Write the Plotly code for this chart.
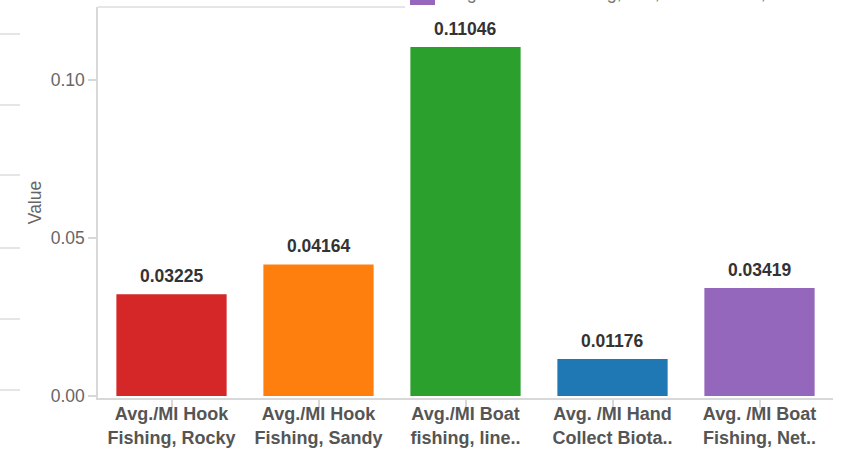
import plotly.graph_objects as go

categories = ["Avg./MI Hook<br>Fishing, Rocky", "Avg./MI Hook<br>Fishing, Sandy",
              "Avg./MI Boat<br>fishing, line..", "Avg. /MI Hand<br>Collect Biota..",
              "Avg. /MI Boat<br>Fishing, Net.."]
values = [0.03225, 0.04164, 0.11046, 0.01176, 0.03419]
labels = ["0.03225", "0.04164", "0.11046", "0.01176", "0.03419"]
colors = ["#d62728", "#ff7f0e", "#2ca02c", "#1f77b4", "#9467bd"]
ytick_vals = [0.0, 0.05, 0.10]
ytick_text = ["0.00", "0.05", "0.10"]
legend_text = "Avg. /MI Boat Fishing, Net, Commercial, Nearshore"

FONT = "Liberation Sans, Arial, sans-serif"
W, H = 865, 449
L, R, T, B = 98, 32, 7, 51
pw, ph = W - L - R, H - T - B

xs = list(range(len(categories)))
fig = go.Figure(go.Bar(
    x=xs, y=values, marker_color=colors,
    marker_line_width=0, width=0.75, hoverinfo="x+y",
))

def px_y(py):
    return (H - B - py) / ph

def px_x(px):
    return (px - L) / pw

shapes = []
for py in [34, 105, 175, 248, 319, 390]:
    shapes.append(dict(type="line", xref="paper", yref="paper",
                       x0=px_x(0), x1=px_x(20), y0=px_y(py), y1=px_y(py),
                       line=dict(color="#dcdcdc", width=1.5)))
shapes.append(dict(type="line", xref="paper", yref="paper",
                   x0=0, x1=px_x(405), y0=1, y1=1,
                   line=dict(color="#dcdcdc", width=1.5)))
shapes.append(dict(type="rect", xref="paper", yref="paper",
                   x0=px_x(410), x1=px_x(435), y0=px_y(5), y1=px_y(-12),
                   fillcolor="#9467bd", line_width=0))

annotations = [dict(text=lab, x=xv, y=v, xref="x", yref="y", xanchor="center",
                    yanchor="bottom", yshift=6, showarrow=False,
                    font=dict(family=FONT, size=17.5, color="#333", weight="bold"))
               for xv, v, lab in zip(xs, values, labels)]
annotations.append(dict(text=legend_text, xref="paper", yref="paper",
                        x=px_x(444), y=px_y(-7), xanchor="left", yanchor="middle",
                        showarrow=False,
                        font=dict(family=FONT, size=18, color="#777")))

fig.update_layout(
    width=W, height=H,
    margin=dict(l=L, r=R, t=T, b=B, pad=0, autoexpand=False),
    plot_bgcolor="white", paper_bgcolor="white",
    showlegend=False,
    font=dict(family=FONT, color="#666"),
    shapes=shapes,
    annotations=annotations,
    xaxis=dict(
        tickmode="array", tickvals=xs, ticktext=categories,
        range=[-0.5, len(categories) - 0.5],
        showline=True, linecolor="#d8d8d8", linewidth=1.5,
        ticks="outside", ticklen=8, tickcolor="#d8d8d8", tickwidth=1.5,
        ticklabelstandoff=-9,
        tickfont=dict(family=FONT, size=18, color="#555", weight="bold"),
        showgrid=False, zeroline=False, tickson="boundaries", automargin=False,
    ),
    yaxis=dict(
        range=[-0.0006, 0.1231],
        tickvals=ytick_vals, ticktext=ytick_text,
        showline=True, linecolor="#d8d8d8", linewidth=1.5,
        ticks="outside", ticklen=8, tickcolor="#d8d8d8", tickwidth=1.5,
        tickfont=dict(family=FONT, size=17.5, color="#666"),
        showgrid=False, zeroline=False, automargin=False,
        title=dict(text="Value", standoff=5,
                   font=dict(family=FONT, size=17.5, color="#666")),
    ),
)

fig.write_html("out.html", config={"displayModeBar": False},
               post_script="document.body.style.margin='0';document.body.style.overflow='hidden';")
